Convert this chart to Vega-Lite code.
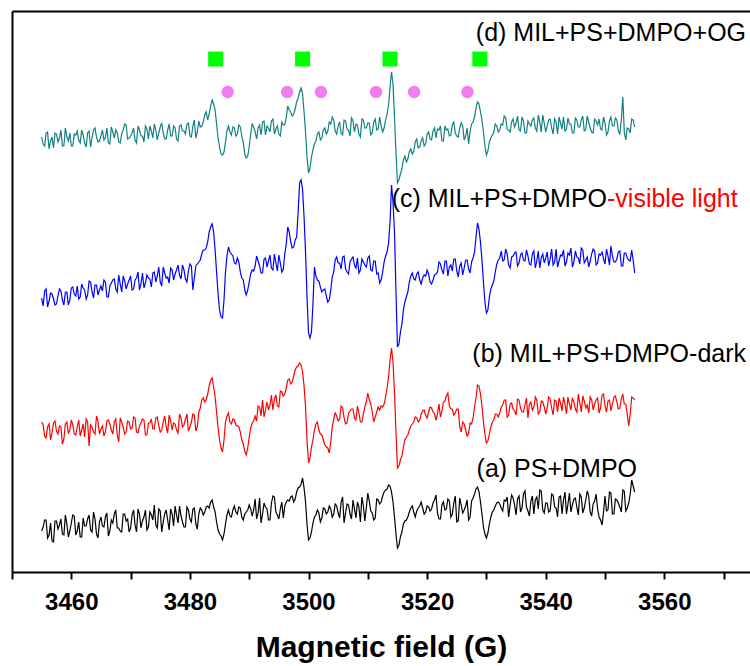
{
"$schema": "https://vega.github.io/schema/vega-lite/v6.json",
"width": 738, "height": 561,
"autosize": "none",
"padding": {"left": 12, "top": 11, "right": 0, "bottom": 94},
"background": "white",
"config": {"view": {"stroke": null}, "font": "Liberation Sans"},
"datasets": {
"spectra": [
{"B":3455,"a":41,"b":150,"c":274,"d":435},
{"B":3455.5,"a":52,"b":136,"c":281,"d":426},
{"B":3456,"a":34,"b":145,"c":265,"d":440},
{"B":3456.5,"a":49,"b":132,"c":279,"d":431},
{"B":3457,"a":30,"b":149,"c":273,"d":424},
{"B":3457.5,"a":51,"b":141,"c":268,"d":438},
{"B":3458,"a":47,"b":146,"c":283,"d":434},
{"B":3458.5,"a":38,"b":128,"c":272,"d":426},
{"B":3459,"a":57,"b":148,"c":280,"d":444},
{"B":3459.5,"a":35,"b":139,"c":267,"d":431},
{"B":3460,"a":49,"b":152,"c":284,"d":426},
{"B":3460.5,"a":56,"b":138,"c":278,"d":438},
{"B":3461,"a":41,"b":145,"c":286,"d":441},
{"B":3461.5,"a":35,"b":136,"c":275,"d":429},
{"B":3462,"a":54,"b":148,"c":284,"d":437},
{"B":3462.5,"a":46,"b":153,"c":273,"d":425},
{"B":3463,"a":57,"b":126,"c":291,"d":441},
{"B":3463.5,"a":40,"b":145,"c":280,"d":434},
{"B":3464,"a":53,"b":138,"c":287,"d":444},
{"B":3464.5,"a":34,"b":151,"c":277,"d":430},
{"B":3465,"a":55,"b":143,"c":286,"d":436},
{"B":3465.5,"a":45,"b":136,"c":292,"d":432},
{"B":3466,"a":59,"b":151,"c":275,"d":444},
{"B":3466.5,"a":41,"b":148,"c":286,"d":428},
{"B":3467,"a":49,"b":138,"c":292,"d":440},
{"B":3467.5,"a":62,"b":153,"c":283,"d":442},
{"B":3468,"a":44,"b":130,"c":297,"d":430},
{"B":3468.5,"a":40,"b":150,"c":280,"d":438},
{"B":3469,"a":58,"b":138,"c":291,"d":448},
{"B":3469.5,"a":53,"b":151,"c":288,"d":433},
{"B":3470,"a":44,"b":143,"c":296,"d":436},
{"B":3470.5,"a":62,"b":155,"c":283,"d":444},
{"B":3471,"a":40,"b":140,"c":294,"d":429},
{"B":3471.5,"a":58,"b":146,"c":282,"d":442},
{"B":3472,"a":51,"b":153,"c":299,"d":436},
{"B":3472.5,"a":62,"b":137,"c":289,"d":446},
{"B":3473,"a":45,"b":149,"c":294,"d":433},
{"B":3473.5,"a":57,"b":153,"c":285,"d":441},
{"B":3474,"a":67,"b":143,"c":300,"d":448},
{"B":3474.5,"a":44,"b":155,"c":296,"d":432},
{"B":3475,"a":61,"b":140,"c":290,"d":445},
{"B":3475.5,"a":50,"b":150,"c":305,"d":439},
{"B":3476,"a":62,"b":145,"c":294,"d":433},
{"B":3476.5,"a":42,"b":157,"c":289,"d":448},
{"B":3477,"a":58,"b":142,"c":302,"d":436},
{"B":3477.5,"a":66,"b":148,"c":298,"d":444},
{"B":3478,"a":49,"b":139,"c":307,"d":431},
{"B":3478.5,"a":56,"b":154,"c":293,"d":447},
{"B":3479,"a":45,"b":147,"c":302,"d":441},
{"B":3479.5,"a":65,"b":158,"c":290,"d":448},
{"B":3480,"a":53,"b":145,"c":308,"d":436},
{"B":3480.5,"a":63,"b":158,"c":282,"d":446},
{"B":3481,"a":48,"b":141,"c":306,"d":434},
{"B":3481.5,"a":58,"b":160,"c":310,"d":451},
{"B":3482,"a":62,"b":172,"c":318,"d":446},
{"B":3482.5,"a":60,"b":170,"c":322,"d":457},
{"B":3483,"a":66,"b":178,"c":330,"d":452},
{"B":3483.5,"a":70,"b":192,"c":345,"d":466},
{"B":3484,"a":65,"b":185,"c":340,"d":468},
{"B":3484.5,"a":50,"b":160,"c":300,"d":448},
{"B":3485,"a":38,"b":132,"c":262,"d":425},
{"B":3485.5,"a":32,"b":120,"c":254,"d":417},
{"B":3486,"a":48,"b":150,"c":300,"d":430},
{"B":3486.5,"a":62,"b":159,"c":325,"d":446},
{"B":3487,"a":55,"b":148,"c":318,"d":437},
{"B":3487.5,"a":66,"b":152,"c":309,"d":444},
{"B":3488,"a":58,"b":146,"c":314,"d":438},
{"B":3488.5,"a":64,"b":140,"c":300,"d":445},
{"B":3489,"a":52,"b":128,"c":292,"d":430},
{"B":3489.5,"a":60,"b":117,"c":277,"d":414},
{"B":3490,"a":67,"b":135,"c":290,"d":425},
{"B":3490.5,"a":56,"b":149,"c":302,"d":448},
{"B":3491,"a":73,"b":156,"c":306,"d":440},
{"B":3491.5,"a":59,"b":166,"c":311,"d":444},
{"B":3492,"a":49,"b":156,"c":299,"d":437},
{"B":3492.5,"a":69,"b":155,"c":313,"d":451},
{"B":3493,"a":63,"b":170,"c":305,"d":446},
{"B":3493.5,"a":52,"b":167,"c":317,"d":440},
{"B":3494,"a":76,"b":162,"c":302,"d":453},
{"B":3494.5,"a":60,"b":177,"c":309,"d":443},
{"B":3495,"a":53,"b":165,"c":317,"d":438},
{"B":3495.5,"a":70,"b":180,"c":300,"d":450},
{"B":3496,"a":66,"b":178,"c":318,"d":447},
{"B":3496.5,"a":72,"b":192,"c":345,"d":466},
{"B":3497,"a":75,"b":188,"c":330,"d":460},
{"B":3497.5,"a":70,"b":196,"c":325,"d":458},
{"B":3498,"a":80,"b":205,"c":335,"d":470},
{"B":3498.5,"a":85,"b":209,"c":389,"d":480},
{"B":3499,"a":94,"b":200,"c":382,"d":478},
{"B":3499.5,"a":70,"b":165,"c":320,"d":440},
{"B":3500,"a":32,"b":109,"c":239,"d":399},
{"B":3500.5,"a":40,"b":125,"c":240,"d":415},
{"B":3501,"a":55,"b":142,"c":305,"d":428},
{"B":3501.5,"a":62,"b":150,"c":292,"d":438},
{"B":3502,"a":50,"b":138,"c":285,"d":432},
{"B":3502.5,"a":64,"b":132,"c":282,"d":442},
{"B":3503,"a":58,"b":125,"c":276,"d":438},
{"B":3503.5,"a":66,"b":119,"c":272,"d":450},
{"B":3504,"a":55,"b":145,"c":295,"d":455},
{"B":3504.5,"a":68,"b":159,"c":312,"d":441},
{"B":3505,"a":59,"b":151,"c":309,"d":446},
{"B":3505.5,"a":70,"b":166,"c":303,"d":439},
{"B":3506,"a":49,"b":154,"c":316,"d":452},
{"B":3506.5,"a":68,"b":149,"c":300,"d":443},
{"B":3507,"a":58,"b":161,"c":310,"d":436},
{"B":3507.5,"a":72,"b":163,"c":315,"d":451},
{"B":3508,"a":54,"b":152,"c":304,"d":448},
{"B":3508.5,"a":65,"b":159,"c":299,"d":438},
{"B":3509,"a":75,"b":150,"c":313,"d":453},
{"B":3509.5,"a":51,"b":165,"c":307,"d":444},
{"B":3510,"a":79,"b":179,"c":314,"d":449},
{"B":3510.5,"a":61,"b":168,"c":302,"d":437},
{"B":3511,"a":52,"b":150,"c":311,"d":450},
{"B":3511.5,"a":73,"b":160,"c":298,"d":442},
{"B":3512,"a":68,"b":162,"c":289,"d":455},
{"B":3512.5,"a":76,"b":165,"c":300,"d":440},
{"B":3513,"a":82,"b":175,"c":316,"d":452},
{"B":3513.5,"a":87,"b":195,"c":329,"d":467},
{"B":3514,"a":80,"b":224,"c":387,"d":500},
{"B":3514.5,"a":55,"b":180,"c":340,"d":455},
{"B":3515,"a":24,"b":104,"c":225,"d":389},
{"B":3515.5,"a":35,"b":112,"c":240,"d":398},
{"B":3516,"a":48,"b":125,"c":262,"d":412},
{"B":3516.5,"a":52,"b":135,"c":275,"d":410},
{"B":3517,"a":60,"b":142,"c":290,"d":420},
{"B":3517.5,"a":66,"b":148,"c":299,"d":418},
{"B":3518,"a":55,"b":155,"c":292,"d":430},
{"B":3518.5,"a":64,"b":150,"c":300,"d":424},
{"B":3519,"a":70,"b":158,"c":288,"d":431},
{"B":3519.5,"a":58,"b":162,"c":297,"d":426},
{"B":3520,"a":66,"b":154,"c":302,"d":438},
{"B":3520.5,"a":61,"b":165,"c":290,"d":433},
{"B":3521,"a":69,"b":160,"c":292,"d":441},
{"B":3521.5,"a":77,"b":152,"c":298,"d":434},
{"B":3522,"a":53,"b":168,"c":310,"d":442},
{"B":3522.5,"a":67,"b":161,"c":302,"d":431},
{"B":3523,"a":62,"b":171,"c":311,"d":446},
{"B":3523.5,"a":73,"b":179,"c":296,"d":443},
{"B":3524,"a":55,"b":163,"c":307,"d":437},
{"B":3524.5,"a":69,"b":157,"c":313,"d":450},
{"B":3525,"a":50,"b":163,"c":301,"d":436},
{"B":3525.5,"a":74,"b":145,"c":306,"d":444},
{"B":3526,"a":59,"b":150,"c":297,"d":446},
{"B":3526.5,"a":66,"b":142,"c":312,"d":436},
{"B":3527,"a":52,"b":139,"c":303,"d":428},
{"B":3527.5,"a":71,"b":148,"c":310,"d":448},
{"B":3528,"a":78,"b":165,"c":320,"d":455},
{"B":3528.5,"a":85,"b":187,"c":349,"d":470},
{"B":3529,"a":70,"b":178,"c":330,"d":460},
{"B":3529.5,"a":45,"b":150,"c":290,"d":440},
{"B":3530,"a":34,"b":129,"c":259,"d":417},
{"B":3530.5,"a":48,"b":138,"c":275,"d":430},
{"B":3531,"a":60,"b":150,"c":287,"d":437},
{"B":3531.5,"a":66,"b":158,"c":300,"d":448},
{"B":3532,"a":70,"b":155,"c":312,"d":440},
{"B":3532.5,"a":64,"b":165,"c":321,"d":448},
{"B":3533,"a":72,"b":172,"c":312,"d":456},
{"B":3533.5,"a":75,"b":155,"c":318,"d":443},
{"B":3534,"a":67,"b":168,"c":304,"d":440},
{"B":3534.5,"a":74,"b":163,"c":316,"d":453},
{"B":3535,"a":57,"b":157,"c":320,"d":449},
{"B":3535.5,"a":76,"b":172,"c":309,"d":442},
{"B":3536,"a":64,"b":160,"c":319,"d":455},
{"B":3536.5,"a":81,"b":167,"c":311,"d":439},
{"B":3537,"a":61,"b":154,"c":316,"d":451},
{"B":3537.5,"a":71,"b":170,"c":307,"d":446},
{"B":3538,"a":58,"b":165,"c":321,"d":454},
{"B":3538.5,"a":75,"b":172,"c":311,"d":441},
{"B":3539,"a":82,"b":160,"c":304,"d":450},
{"B":3539.5,"a":62,"b":170,"c":318,"d":457},
{"B":3540,"a":69,"b":158,"c":314,"d":440},
{"B":3540.5,"a":60,"b":175,"c":306,"d":452},
{"B":3541,"a":78,"b":164,"c":323,"d":444},
{"B":3541.5,"a":65,"b":172,"c":310,"d":453},
{"B":3542,"a":55,"b":160,"c":305,"d":438},
{"B":3542.5,"a":76,"b":169,"c":317,"d":449},
{"B":3543,"a":72,"b":175,"c":322,"d":455},
{"B":3543.5,"a":58,"b":158,"c":310,"d":443},
{"B":3544,"a":79,"b":168,"c":317,"d":448},
{"B":3544.5,"a":67,"b":174,"c":305,"d":439},
{"B":3545,"a":74,"b":163,"c":321,"d":454},
{"B":3545.5,"a":57,"b":178,"c":314,"d":445},
{"B":3546,"a":75,"b":160,"c":324,"d":452},
{"B":3546.5,"a":64,"b":171,"c":309,"d":441},
{"B":3547,"a":81,"b":167,"c":315,"d":456},
{"B":3547.5,"a":60,"b":175,"c":311,"d":444},
{"B":3548,"a":68,"b":162,"c":323,"d":439},
{"B":3548.5,"a":78,"b":172,"c":307,"d":451},
{"B":3549,"a":55,"b":159,"c":318,"d":453},
{"B":3549.5,"a":47,"b":177,"c":320,"d":442},
{"B":3550,"a":76,"b":166,"c":308,"d":449},
{"B":3550.5,"a":62,"b":171,"c":316,"d":440},
{"B":3551,"a":79,"b":161,"c":326,"d":455},
{"B":3551.5,"a":58,"b":175,"c":310,"d":446},
{"B":3552,"a":72,"b":170,"c":313,"d":452},
{"B":3552.5,"a":65,"b":164,"c":321,"d":438},
{"B":3553,"a":82,"b":178,"c":306,"d":475},
{"B":3553.5,"a":61,"b":168,"c":319,"d":432},
{"B":3554,"a":69,"b":146,"c":312,"d":443},
{"B":3554.5,"a":92,"b":175,"c":322,"d":453},
{"B":3555,"a":80,"b":172,"c":299,"d":445},
{"B":3455.25,"a":45,"b":147,"c":266,"d":428},
{"B":3455.75,"a":52,"b":134,"c":283,"d":439},
{"B":3456.25,"a":37,"b":148,"c":271,"d":423},
{"B":3456.75,"a":31,"b":139,"c":278,"d":435},
{"B":3457.25,"a":51,"b":151,"c":267,"d":439},
{"B":3457.75,"a":43,"b":138,"c":276,"d":430},
{"B":3458.25,"a":53,"b":145,"c":281,"d":442},
{"B":3458.75,"a":37,"b":133,"c":267,"d":426},
{"B":3459.25,"a":48,"b":150,"c":280,"d":435},
{"B":3459.75,"a":41,"b":142,"c":272,"d":439},
{"B":3460.25,"a":57,"b":147,"c":285,"d":426},
{"B":3460.75,"a":37,"b":137,"c":276,"d":437},
{"B":3461.25,"a":50,"b":152,"c":273,"d":432},
{"B":3461.75,"a":35,"b":142,"c":288,"d":442},
{"B":3462.25,"a":46,"b":135,"c":282,"d":429},
{"B":3462.75,"a":53,"b":150,"c":277,"d":439},
{"B":3463.25,"a":42,"b":147,"c":290,"d":425},
{"B":3463.75,"a":60,"b":140,"c":274,"d":442},
{"B":3464.25,"a":38,"b":156,"c":287,"d":435},
{"B":3464.75,"a":50,"b":138,"c":282,"d":431},
{"B":3465.25,"a":46,"b":146,"c":281,"d":442},
{"B":3465.75,"a":55,"b":140,"c":290,"d":435},
{"B":3466.25,"a":36,"b":152,"c":275,"d":429},
{"B":3466.75,"a":52,"b":142,"c":289,"d":445},
{"B":3467.25,"a":58,"b":150,"c":293,"d":434},
{"B":3467.75,"a":44,"b":137,"c":280,"d":439},
{"B":3468.25,"a":41,"b":154,"c":288,"d":429},
{"B":3468.75,"a":58,"b":145,"c":296,"d":442},
{"B":3469.25,"a":51,"b":140,"c":283,"d":447},
{"B":3469.75,"a":40,"b":150,"c":292,"d":434},
{"B":3470.25,"a":57,"b":144,"c":282,"d":439},
{"B":3470.75,"a":47,"b":154,"c":292,"d":432},
{"B":3471.25,"a":63,"b":139,"c":300,"d":446},
{"B":3471.75,"a":44,"b":149,"c":288,"d":436},
{"B":3472.25,"a":55,"b":152,"c":284,"d":430},
{"B":3472.75,"a":42,"b":137,"c":297,"d":443},
{"B":3473.25,"a":60,"b":149,"c":293,"d":446},
{"B":3473.75,"a":52,"b":143,"c":299,"d":434},
{"B":3474.25,"a":47,"b":154,"c":290,"d":442},
{"B":3474.75,"a":63,"b":146,"c":305,"d":439},
{"B":3475.25,"a":40,"b":142,"c":286,"d":449},
{"B":3475.75,"a":58,"b":156,"c":299,"d":433},
{"B":3476.25,"a":52,"b":139,"c":295,"d":442},
{"B":3476.75,"a":63,"b":151,"c":304,"d":436},
{"B":3477.25,"a":46,"b":149,"c":292,"d":446},
{"B":3477.75,"a":57,"b":142,"c":302,"d":433},
{"B":3478.25,"a":66,"b":158,"c":297,"d":446},
{"B":3478.75,"a":50,"b":145,"c":307,"d":441},
{"B":3479.25,"a":45,"b":153,"c":293,"d":438},
{"B":3479.75,"a":62,"b":141,"c":301,"d":449},
{"B":3480.25,"a":50,"b":150,"c":306,"d":435},
{"B":3480.75,"a":64,"b":157,"c":294,"d":452},
{"B":3481.25,"a":43,"b":145,"c":308,"d":440},
{"B":3481.75,"a":64,"b":164,"c":312,"d":445},
{"B":3482.25,"a":57,"b":174,"c":322,"d":450},
{"B":3482.75,"a":65,"b":172,"c":324,"d":460},
{"B":3483.25,"a":64,"b":186,"c":340,"d":458},
{"B":3483.75,"a":72,"b":194,"c":348,"d":472},
{"B":3484.25,"a":60,"b":175,"c":322,"d":462},
{"B":3484.75,"a":42,"b":144,"c":278,"d":434},
{"B":3485.25,"a":36,"b":124,"c":255,"d":418},
{"B":3485.75,"a":38,"b":132,"c":272,"d":420},
{"B":3486.25,"a":57,"b":156,"c":316,"d":441},
{"B":3486.75,"a":56,"b":150,"c":320,"d":440},
{"B":3487.25,"a":62,"b":153,"c":316,"d":445},
{"B":3487.75,"a":60,"b":147,"c":308,"d":436},
{"B":3488.25,"a":65,"b":145,"c":310,"d":447},
{"B":3488.75,"a":55,"b":132,"c":294,"d":436},
{"B":3489.25,"a":58,"b":121,"c":282,"d":418},
{"B":3489.75,"a":62,"b":124,"c":282,"d":416},
{"B":3490.25,"a":63,"b":144,"c":298,"d":438},
{"B":3490.75,"a":62,"b":151,"c":301,"d":445},
{"B":3491.25,"a":53,"b":151,"c":316,"d":433},
{"B":3491.75,"a":74,"b":165,"c":306,"d":447},
{"B":3492.25,"a":58,"b":172,"c":299,"d":450},
{"B":3492.75,"a":65,"b":162,"c":314,"d":437},
{"B":3493.25,"a":52,"b":162,"c":311,"d":444},
{"B":3493.75,"a":69,"b":177,"c":304,"d":451},
{"B":3494.25,"a":75,"b":173,"c":318,"d":438},
{"B":3494.75,"a":57,"b":166,"c":301,"d":446},
{"B":3495.25,"a":63,"b":181,"c":309,"d":436},
{"B":3495.75,"a":54,"b":176,"c":303,"d":447},
{"B":3496.25,"a":70,"b":184,"c":328,"d":455},
{"B":3496.75,"a":71,"b":193,"c":340,"d":462},
{"B":3497.25,"a":76,"b":190,"c":324,"d":456},
{"B":3497.75,"a":73,"b":202,"c":332,"d":463},
{"B":3498.25,"a":84,"b":206,"c":360,"d":474},
{"B":3498.75,"a":88,"b":207,"c":392,"d":484},
{"B":3499.25,"a":84,"b":186,"c":355,"d":460},
{"B":3499.75,"a":48,"b":132,"c":275,"d":415},
{"B":3500.25,"a":34,"b":114,"c":234,"d":404},
{"B":3500.75,"a":49,"b":132,"c":268,"d":422},
{"B":3501.25,"a":57,"b":148,"c":296,"d":431},
{"B":3501.75,"a":59,"b":142,"c":291,"d":440},
{"B":3502.25,"a":54,"b":137,"c":280,"d":434},
{"B":3502.75,"a":63,"b":127,"c":283,"d":444},
{"B":3503.25,"a":60,"b":124,"c":270,"d":441},
{"B":3503.75,"a":63,"b":130,"c":282,"d":448},
{"B":3504.25,"a":58,"b":153,"c":300,"d":452},
{"B":3504.75,"a":66,"b":156,"c":315,"d":438},
{"B":3505.25,"a":54,"b":153,"c":309,"d":450},
{"B":3505.75,"a":75,"b":164,"c":315,"d":437},
{"B":3506.25,"a":59,"b":148,"c":303,"d":451},
{"B":3506.75,"a":67,"b":159,"c":298,"d":442},
{"B":3507.25,"a":53,"b":163,"c":313,"d":454},
{"B":3507.75,"a":63,"b":154,"c":307,"d":440},
{"B":3508.25,"a":70,"b":166,"c":314,"d":447},
{"B":3508.75,"a":50,"b":150,"c":302,"d":435},
{"B":3509.25,"a":66,"b":158,"c":310,"d":452},
{"B":3509.75,"a":64,"b":170,"c":305,"d":444},
{"B":3510.25,"a":71,"b":172,"c":316,"d":449},
{"B":3510.75,"a":59,"b":160,"c":301,"d":439},
{"B":3511.25,"a":54,"b":155,"c":311,"d":453},
{"B":3511.75,"a":72,"b":165,"c":299,"d":443},
{"B":3512.25,"a":70,"b":166,"c":292,"d":446},
{"B":3512.75,"a":80,"b":168,"c":310,"d":444},
{"B":3513.25,"a":83,"b":184,"c":320,"d":458},
{"B":3513.75,"a":86,"b":212,"c":350,"d":485},
{"B":3514.25,"a":70,"b":210,"c":370,"d":488},
{"B":3514.75,"a":38,"b":140,"c":280,"d":420},
{"B":3515.25,"a":27,"b":106,"c":228,"d":392},
{"B":3515.75,"a":40,"b":116,"c":248,"d":403},
{"B":3516.25,"a":51,"b":132,"c":270,"d":416},
{"B":3516.75,"a":55,"b":137,"c":280,"d":413},
{"B":3517.25,"a":64,"b":146,"c":296,"d":423},
{"B":3517.75,"a":60,"b":150,"c":293,"d":421},
{"B":3518.25,"a":61,"b":154,"c":298,"d":433},
{"B":3518.75,"a":66,"b":152,"c":292,"d":425},
{"B":3519.25,"a":64,"b":161,"c":294,"d":434},
{"B":3519.75,"a":60,"b":157,"c":296,"d":428},
{"B":3520.25,"a":65,"b":160,"c":298,"d":440},
{"B":3520.75,"a":63,"b":164,"c":288,"d":432},
{"B":3521.25,"a":72,"b":158,"c":297,"d":444},
{"B":3521.75,"a":59,"b":158,"c":300,"d":443},
{"B":3522.25,"a":53,"b":155,"c":308,"d":446},
{"B":3522.75,"a":70,"b":170,"c":298,"d":431},
{"B":3523.25,"a":63,"b":176,"c":311,"d":442},
{"B":3523.75,"a":71,"b":166,"c":305,"d":436},
{"B":3524.25,"a":58,"b":163,"c":301,"d":447},
{"B":3524.75,"a":76,"b":159,"c":313,"d":439},
{"B":3525.25,"a":51,"b":163,"c":295,"d":435},
{"B":3525.75,"a":67,"b":140,"c":309,"d":449},
{"B":3526.25,"a":62,"b":148,"c":304,"d":432},
{"B":3526.75,"a":72,"b":136,"c":312,"d":444},
{"B":3527.25,"a":55,"b":149,"c":299,"d":441},
{"B":3527.75,"a":74,"b":154,"c":314,"d":450},
{"B":3528.25,"a":83,"b":174,"c":335,"d":464},
{"B":3528.75,"a":80,"b":186,"c":343,"d":468},
{"B":3529.25,"a":58,"b":166,"c":312,"d":452},
{"B":3529.75,"a":38,"b":138,"c":270,"d":426},
{"B":3530.25,"a":39,"b":131,"c":262,"d":421},
{"B":3530.75,"a":55,"b":145,"c":283,"d":434},
{"B":3531.25,"a":62,"b":152,"c":291,"d":440},
{"B":3531.75,"a":69,"b":158,"c":308,"d":446},
{"B":3532.25,"a":68,"b":159,"c":314,"d":442},
{"B":3532.75,"a":61,"b":167,"c":311,"d":447},
{"B":3533.25,"a":71,"b":172,"c":323,"d":454},
{"B":3533.75,"a":55,"b":157,"c":307,"d":442},
{"B":3534.25,"a":77,"b":169,"c":315,"d":450},
{"B":3534.75,"a":67,"b":161,"c":319,"d":445},
{"B":3535.25,"a":73,"b":173,"c":306,"d":456},
{"B":3535.75,"a":60,"b":164,"c":317,"d":441},
{"B":3536.25,"a":78,"b":160,"c":312,"d":451},
{"B":3536.75,"a":65,"b":174,"c":322,"d":439},
{"B":3537.25,"a":56,"b":168,"c":308,"d":448},
{"B":3537.75,"a":76,"b":162,"c":318,"d":452},
{"B":3538.25,"a":72,"b":175,"c":304,"d":444},
{"B":3538.75,"a":63,"b":158,"c":321,"d":457},
{"B":3539.25,"a":81,"b":171,"c":314,"d":440},
{"B":3539.75,"a":59,"b":165,"c":309,"d":449},
{"B":3540.25,"a":69,"b":164,"c":320,"d":446},
{"B":3540.75,"a":61,"b":173,"c":313,"d":453},
{"B":3541.25,"a":77,"b":157,"c":307,"d":438},
{"B":3541.75,"a":64,"b":171,"c":323,"d":450},
{"B":3542.25,"a":75,"b":174,"c":311,"d":455},
{"B":3542.75,"a":58,"b":161,"c":316,"d":443},
{"B":3543.25,"a":80,"b":168,"c":306,"d":441},
{"B":3543.75,"a":68,"b":175,"c":319,"d":454},
{"B":3544.25,"a":60,"b":162,"c":324,"d":448},
{"B":3544.75,"a":73,"b":170,"c":310,"d":439},
{"B":3545.25,"a":65,"b":160,"c":315,"d":452},
{"B":3545.75,"a":78,"b":169,"c":308,"d":445},
{"B":3546.25,"a":59,"b":176,"c":322,"d":456},
{"B":3546.75,"a":72,"b":164,"c":312,"d":442},
{"B":3547.25,"a":76,"b":159,"c":305,"d":450},
{"B":3547.75,"a":56,"b":172,"c":318,"d":440},
{"B":3548.25,"a":71,"b":168,"c":321,"d":453},
{"B":3548.75,"a":63,"b":174,"c":309,"d":447},
{"B":3549.25,"a":52,"b":164,"c":317,"d":443},
{"B":3549.75,"a":60,"b":178,"c":313,"d":455},
{"B":3550.25,"a":61,"b":160,"c":323,"d":437},
{"B":3550.75,"a":80,"b":172,"c":307,"d":451},
{"B":3551.25,"a":58,"b":168,"c":316,"d":446},
{"B":3551.75,"a":73,"b":176,"c":310,"d":454},
{"B":3552.25,"a":69,"b":163,"c":320,"d":441},
{"B":3552.75,"a":60,"b":173,"c":306,"d":452},
{"B":3553.25,"a":81,"b":168,"c":319,"d":440},
{"B":3553.75,"a":64,"b":158,"c":314,"d":444},
{"B":3554.25,"a":78,"b":158,"c":311,"d":439},
{"B":3554.75,"a":86,"b":174,"c":312,"d":452}
],
"labels": [
{"B":3573.78,"v":531.5,"t":"(d) MIL+PS+DMPO+OG"},
{"B":3550.34,"v":365,"t":"(c) MIL+PS+DMPO"},
{"B":3573.78,"v":210,"t":"(b) MIL+PS+DMPO-dark"},
{"B":3555.4,"v":95,"t":"(a) PS+DMPO"}
],
"red": [
{"B":3550.34,"v":365,"t":"-visible light"}
],
"squares": [
{"B":3484.35,"v":513},{"B":3499.0,"v":513},{"B":3513.74,"v":513},{"B":3528.9,"v":513}
],
"circles": [
{"B":3486.37,"v":480},{"B":3496.4,"v":480},{"B":3502.1,"v":480},{"B":3511.4,"v":480},{"B":3517.8,"v":480},{"B":3526.8,"v":480}
]
},
"layer": [
{
"data": {"name": "spectra"},
"transform": [{"fold": ["a","b","c","d"], "as": ["series","v"]}],
"mark": {"type": "line", "strokeWidth": 1.2},
"encoding": {
"x": {"field": "B", "type": "quantitative",
"scale": {"domain": [3450, 3574.45], "nice": false, "zero": false},
"axis": {
"orient": "bottom",
"values": [3450,3460,3470,3480,3490,3500,3510,3520,3530,3540,3550,3560,3570],
"format": "d",
"labelExpr": "datum.value % 20 === 0 ? datum.label : ''",
"grid": false,
"domainColor": "#000000", "domainWidth": 2,
"tickColor": "#000000", "tickWidth": 2, "tickSize": 7,
"labelFont": "Liberation Sans", "labelFontWeight": "bold", "labelFontSize": 24, "labelColor": "#000000",
"labelPadding": 11, "labelFlush": false, "labelOverlap": false,
"title": "Magnetic field (G)", "titleFont": "Liberation Sans", "titleFontWeight": "bold", "titleFontSize": 30, "titleColor": "#000000", "titlePadding": 18,
"encode": {"ticks": {"update": {"y2": {"signal": "datum.value % 20 === 0 || datum.value === 3450 ? 7 : 5"}}}}
}},
"y": {"field": "v", "type": "quantitative",
"scale": {"domain": [0, 561], "nice": false, "zero": false},
"axis": {"domain": true, "ticks": false, "labels": false, "grid": false, "title": null, "domainColor": "#000000", "domainWidth": 2}},
"color": {"field": "series", "type": "nominal",
"scale": {"domain": ["a","b","c","d"], "range": ["#000000","#ff0000","#0000ff","#128080"]},
"legend": null}
}
},
{
"data": {"name": "squares"},
"mark": {"type": "point", "shape": "square", "filled": true, "size": 225, "color": "#00ff00", "opacity": 1},
"encoding": {
"x": {"field": "B", "type": "quantitative",
"axis": {"orient": "top", "domain": true, "ticks": false, "labels": false, "grid": false, "title": null, "domainColor": "#000000", "domainWidth": 2}},
"y": {"field": "v", "type": "quantitative"}
}
},
{
"data": {"name": "circles"},
"mark": {"type": "point", "shape": "circle", "filled": true, "size": 154, "color": "#f07ef0", "opacity": 1},
"encoding": {
"x": {"field": "B", "type": "quantitative", "axis": null},
"y": {"field": "v", "type": "quantitative"}
}
},
{
"data": {"name": "labels"},
"mark": {"type": "text", "align": "right", "baseline": "alphabetic", "font": "Liberation Sans", "fontSize": 25, "color": "#000000"},
"encoding": {
"x": {"field": "B", "type": "quantitative", "axis": null},
"y": {"field": "v", "type": "quantitative"},
"text": {"field": "t"}
}
},
{
"data": {"name": "red"},
"mark": {"type": "text", "align": "left", "baseline": "alphabetic", "font": "Liberation Sans", "fontSize": 25, "color": "#ff0000"},
"encoding": {
"x": {"field": "B", "type": "quantitative", "axis": null},
"y": {"field": "v", "type": "quantitative"},
"text": {"field": "t"}
}
}
],
"resolve": {"axis": {"x": "independent"}}
}
